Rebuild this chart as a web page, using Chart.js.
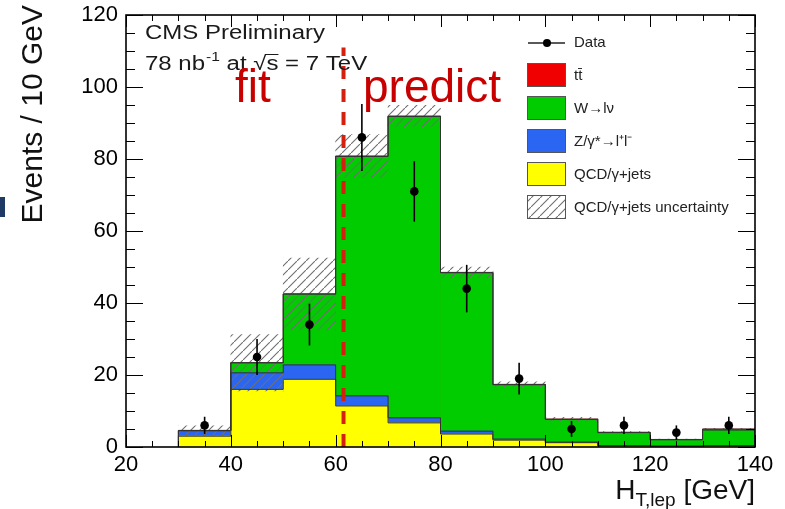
<!DOCTYPE html>
<html lang="en">
<head>
<meta charset="UTF-8">
<title>H_T,lep distribution</title>
<script src="https://cdn.jsdelivr.net/npm/chart.js"></script>
<style>
  html, body { margin: 0; padding: 0; background: #fff; }
  #wrap { width: 785px; height: 509px; }
</style>
</head>
<body>
<div id="wrap"><canvas id="htChart" width="785" height="509"></canvas></div>
<script>
// 10 GeV bins from 30 to 140 GeV
const binCenters = [35, 45, 55, 65, 75, 85, 95, 105, 115, 125, 135];
const binEdges = [30, 40, 50, 60, 70, 80, 90, 100, 110, 120, 130, 140];

// expected events per bin, stacked bottom to top
const qcdJets = [3.0, 16.0, 18.8, 11.4, 6.7, 3.6, 1.9, 1.2, 0.3, 0.2, 0.3];
const zLL = [1.5, 4.6, 4.0, 2.8, 1.4, 0.8, 0.3, 0.15, 0.1, 0.05, 0.1];
const wLNu = [0.1, 2.8, 19.7, 66.5, 83.7, 44.0, 15.1, 6.3, 3.6, 1.75, 4.3];
const ttbar = [0, 0, 0, 0.1, 0.1, 0.1, 0.1, 0.1, 0.1, 0.1, 0.3];
const qcdUnc = [1.3, 7.8, 10.0, 6.0, 3.0, 1.5, 0.7, 0.5, 0.2, 0.1, 0.2];

// observed events and their errors
const dataCounts = [6, 25, 34, 86, 71, 44, 19, 5, 6, 4, 6];
const dataErr = [2.4, 5.0, 5.8, 9.3, 8.4, 6.6, 4.4, 2.2, 2.4, 2.0, 2.4];

// fit region ends / prediction starts here (GeV)
const fitBoundary = 61.5;
const fitLineTop = 111;

const xTickValues = [20, 40, 60, 80, 100, 120, 140];
const yTickValues = [0, 20, 40, 60, 80, 100, 120];

const FONT = '"Liberation Sans", Arial, Helvetica, sans-serif';
const C_TT = '#f00000';
const C_W = '#00cc00';
const C_Z = '#2a66f2';
const C_QCD = '#ffff00';
const C_OUTLINE = '#333333';

const sumArrays = (...arrs) => arrs[0].map((_, i) => arrs.reduce((s, a) => s + a[i], 0));
const lvlQcd = qcdJets;
const lvlZ = sumArrays(qcdJets, zLL);
const lvlW = sumArrays(qcdJets, zLL, wLNu);
const lvlTot = sumArrays(qcdJets, zLL, wLNu, ttbar);

const asPoints = arr => binCenters.map((x, i) => ({x, y: arr[i]}));

// histogram step contour through the bin edges
function stepOutline(levels) {
  const last = binEdges[binEdges.length - 1];
  const pts = [{x: binEdges[0], y: 0}];
  levels.forEach((v, i) => pts.push({x: binEdges[i], y: v}));
  pts.push({x: last, y: levels[levels.length - 1]});
  pts.push({x: last, y: 0});
  return pts;
}

function makeHatch(color) {
  const s = 9;
  const c = document.createElement('canvas');
  c.width = s; c.height = s;
  const g = c.getContext('2d');
  g.strokeStyle = color;
  g.lineWidth = 1.1;
  g.beginPath();
  g.moveTo(-1, s + 1); g.lineTo(s + 1, -1);
  g.moveTo(-2, 1); g.lineTo(1, -2);
  g.moveTo(s - 1, s + 2); g.lineTo(s + 2, s - 1);
  g.stroke();
  return g.createPattern(c, 'repeat');
}
const hatch = makeHatch('#707070');

const fillSet = (label, levels, color, order) => ({
  type: 'bar', label, data: asPoints(levels), backgroundColor: color,
  borderWidth: 0, grouped: false, order
});
const outlineSet = levels => ({
  type: 'line', data: stepOutline(levels), stepped: true, borderColor: C_OUTLINE,
  borderWidth: 1, pointRadius: 0, fill: false, order: 5
});

const datasets = [
  fillSet('tt\u0304', lvlTot, C_TT, 10),
  fillSet('W\u2192l\u03BD', lvlW, C_W, 9),
  fillSet('Z/\u03B3*\u2192l\u207Al\u207B', lvlZ, C_Z, 8),
  fillSet('QCD/\u03B3+jets', lvlQcd, C_QCD, 7),
  {
    type: 'bar', label: 'QCD/\u03B3+jets uncertainty',
    data: binCenters.map((x, i) => ({x, y: [lvlTot[i] - qcdUnc[i], lvlTot[i] + qcdUnc[i]]})),
    backgroundColor: hatch, borderWidth: 0, grouped: false, order: 6
  },
  outlineSet(lvlQcd), outlineSet(lvlZ), outlineSet(lvlW), outlineSet(lvlTot),
  {
    type: 'bar', label: 'err',
    data: binCenters.map((x, i) => ({x, y: [dataCounts[i] - dataErr[i], dataCounts[i] + dataErr[i]]})),
    backgroundColor: '#000', borderWidth: 0, grouped: false, maxBarThickness: 1.6,
    inflateAmount: 0, order: 2
  },
  {
    type: 'line', label: 'Data', data: asPoints(dataCounts), showLine: false,
    pointRadius: 4.3, pointBackgroundColor: '#000', pointBorderWidth: 0, order: 1
  },
  {
    type: 'line', label: 'boundary',
    data: [{x: fitBoundary, y: 0}, {x: fitBoundary, y: fitLineTop}],
    borderColor: '#d4200f', borderWidth: 4, borderDash: [13, 10], pointRadius: 0, order: 0
  }
];

const legendRows = ['Data', 'tt\u0304', 'W\u2192l\u03BD', 'Z/\u03B3*\u2192l\u207Al\u207B', 'QCD/\u03B3+jets', 'QCD/\u03B3+jets uncertainty'];

function wideText(ctx, text, x, y, sx) {
  ctx.save();
  ctx.translate(x, y);
  ctx.scale(sx, 1);
  ctx.fillText(text, 0, 0);
  ctx.restore();
  return ctx.measureText(text).width * sx;
}

const decor = {
  id: 'decor',
  beforeDraw(chart) {
    const ctx = chart.ctx;
    ctx.save();
    ctx.fillStyle = '#fff';
    ctx.fillRect(0, 0, chart.width, chart.height);
    ctx.fillStyle = '#1f3a64';
    ctx.fillRect(0, 197, 5, 20);
    ctx.restore();
  },
  afterDraw(chart) {
    const ctx = chart.ctx;
    const {left, right, top, bottom} = chart.chartArea;
    const xs = chart.scales.x, ys = chart.scales.y;
    ctx.save();

    // ticks on all four sides, inside the frame
    ctx.strokeStyle = '#000';
    ctx.lineWidth = 1;
    ctx.beginPath();
    for (let v = 20; v <= 140; v += 5) {
      const px = Math.round(xs.getPixelForValue(v)) + 0.5;
      const len = v % 20 === 0 ? 12 : 6;
      ctx.moveTo(px, bottom); ctx.lineTo(px, bottom - len);
      ctx.moveTo(px, top); ctx.lineTo(px, top + len);
    }
    for (let v = 0; v <= 120; v += 5) {
      const py = Math.round(ys.getPixelForValue(v)) + 0.5;
      const len = v % 20 === 0 ? 17 : 9;
      ctx.moveTo(left, py); ctx.lineTo(left + len, py);
      ctx.moveTo(right, py); ctx.lineTo(right - len, py);
    }
    ctx.stroke();
    ctx.lineWidth = 1.6;
    ctx.strokeRect(left, top, right - left, bottom - top);

    // header text
    ctx.fillStyle = '#1a1a1a';
    ctx.textAlign = 'left';
    ctx.textBaseline = 'alphabetic';
    const sx = 1.2;
    ctx.font = '20px ' + FONT;
    wideText(ctx, 'CMS Preliminary', 145, 39, sx);
    let x = 145;
    x += wideText(ctx, '78 nb', x, 70, sx);
    ctx.font = '13px ' + FONT;
    x += wideText(ctx, '-1', x + 1, 61, sx) + 1;
    ctx.font = '20px ' + FONT;
    x += wideText(ctx, ' at ', x, 70, sx);
    const wr = wideText(ctx, '\u221A', x, 70, sx);
    const ws = wideText(ctx, 's', x + wr, 70, sx);
    ctx.lineWidth = 1;
    ctx.strokeStyle = '#1a1a1a';
    ctx.beginPath();
    ctx.moveTo(x + wr - 1, 54.5); ctx.lineTo(x + wr + ws, 54.5);
    ctx.stroke();
    x += wr + ws;
    wideText(ctx, ' = 7 TeV', x, 70, sx);

    // region labels
    ctx.fillStyle = '#c80000';
    ctx.font = '46px ' + FONT;
    ctx.fillText('fit', 235, 102);
    ctx.fillText('predict', 363, 102);

    // legend
    const lx = 527, bw = 38, bh = 23, tx = 574;
    ctx.font = '15px ' + FONT;
    ctx.textBaseline = 'middle';
    ctx.fillStyle = '#222';
    ctx.fillText(legendRows[0], tx, 43);
    ctx.strokeStyle = '#222';
    ctx.lineWidth = 1.5;
    ctx.beginPath(); ctx.moveTo(lx + 1, 43); ctx.lineTo(lx + bw, 43); ctx.stroke();
    ctx.beginPath(); ctx.arc(lx + 20, 43, 4, 0, Math.PI * 2); ctx.fillStyle = '#000'; ctx.fill();
    const boxFills = [C_TT, C_W, C_Z, C_QCD, hatch];
    boxFills.forEach((fill, i) => {
      const by = 63 + i * 33;
      if (fill === hatch) {
        ctx.fillStyle = '#fff';
        ctx.fillRect(lx, by, bw, bh);
      }
      ctx.fillStyle = fill;
      ctx.fillRect(lx, by, bw, bh);
      ctx.strokeStyle = '#555';
      ctx.lineWidth = 1;
      ctx.strokeRect(lx + 0.5, by + 0.5, bw, bh);
      ctx.fillStyle = '#222';
      ctx.fillText(legendRows[i + 1], tx, by + bh / 2 + 1);
    });

    // axis titles
    ctx.fillStyle = '#111';
    ctx.textBaseline = 'alphabetic';
    ctx.font = '28px ' + FONT;
    const wH = ctx.measureText('H').width;
    const wRest = ctx.measureText(' [GeV]').width;
    ctx.font = '19px ' + FONT;
    const wSub = ctx.measureText('T,lep').width;
    let hx = right - (wH + wSub + wRest);
    ctx.font = '28px ' + FONT;
    ctx.fillText('H', hx, 499);
    hx += wH;
    ctx.font = '19px ' + FONT;
    ctx.fillText('T,lep', hx, 506);
    hx += wSub;
    ctx.font = '28px ' + FONT;
    ctx.fillText(' [GeV]', hx, 499);

    ctx.save();
    ctx.translate(42, 5);
    ctx.rotate(-Math.PI / 2);
    ctx.font = '30px ' + FONT;
    ctx.textAlign = 'right';
    ctx.fillText('Events / 10 GeV', 0, 0);
    ctx.restore();

    ctx.restore();
  }
};

const noScalePadding = s => { s.paddingTop = 0; s.paddingBottom = 0; s.paddingLeft = 0; s.paddingRight = 0; };

new Chart(document.getElementById('htChart'), {
  type: 'bar',
  data: {datasets},
  plugins: [decor],
  options: {
    responsive: false,
    devicePixelRatio: 1,
    animation: false,
    events: [],
    layout: {padding: {left: 0, top: 15, right: 30, bottom: 0}},
    datasets: {bar: {barPercentage: 1, categoryPercentage: 1}},
    plugins: {legend: {display: false}, tooltip: {enabled: false}},
    scales: {
      x: {
        type: 'linear', min: 20, max: 140, offset: false,
        afterBuildTicks: s => { s.ticks = xTickValues.map(value => ({value})); },
        afterFit: s => { s.height = 62; noScalePadding(s); },
        grid: {display: false, drawTicks: false},
        border: {display: false},
        ticks: {color: '#000', font: {family: FONT, size: 22}, padding: 5, maxRotation: 0, autoSkip: false}
      },
      y: {
        type: 'linear', min: 0, max: 120,
        afterBuildTicks: s => { s.ticks = yTickValues.map(value => ({value})); },
        afterFit: s => { s.width = 126; noScalePadding(s); },
        grid: {display: false, drawTicks: false},
        border: {display: false},
        ticks: {color: '#000', font: {family: FONT, size: 22}, padding: 8}
      }
    }
  }
});
</script>
</body>
</html>
